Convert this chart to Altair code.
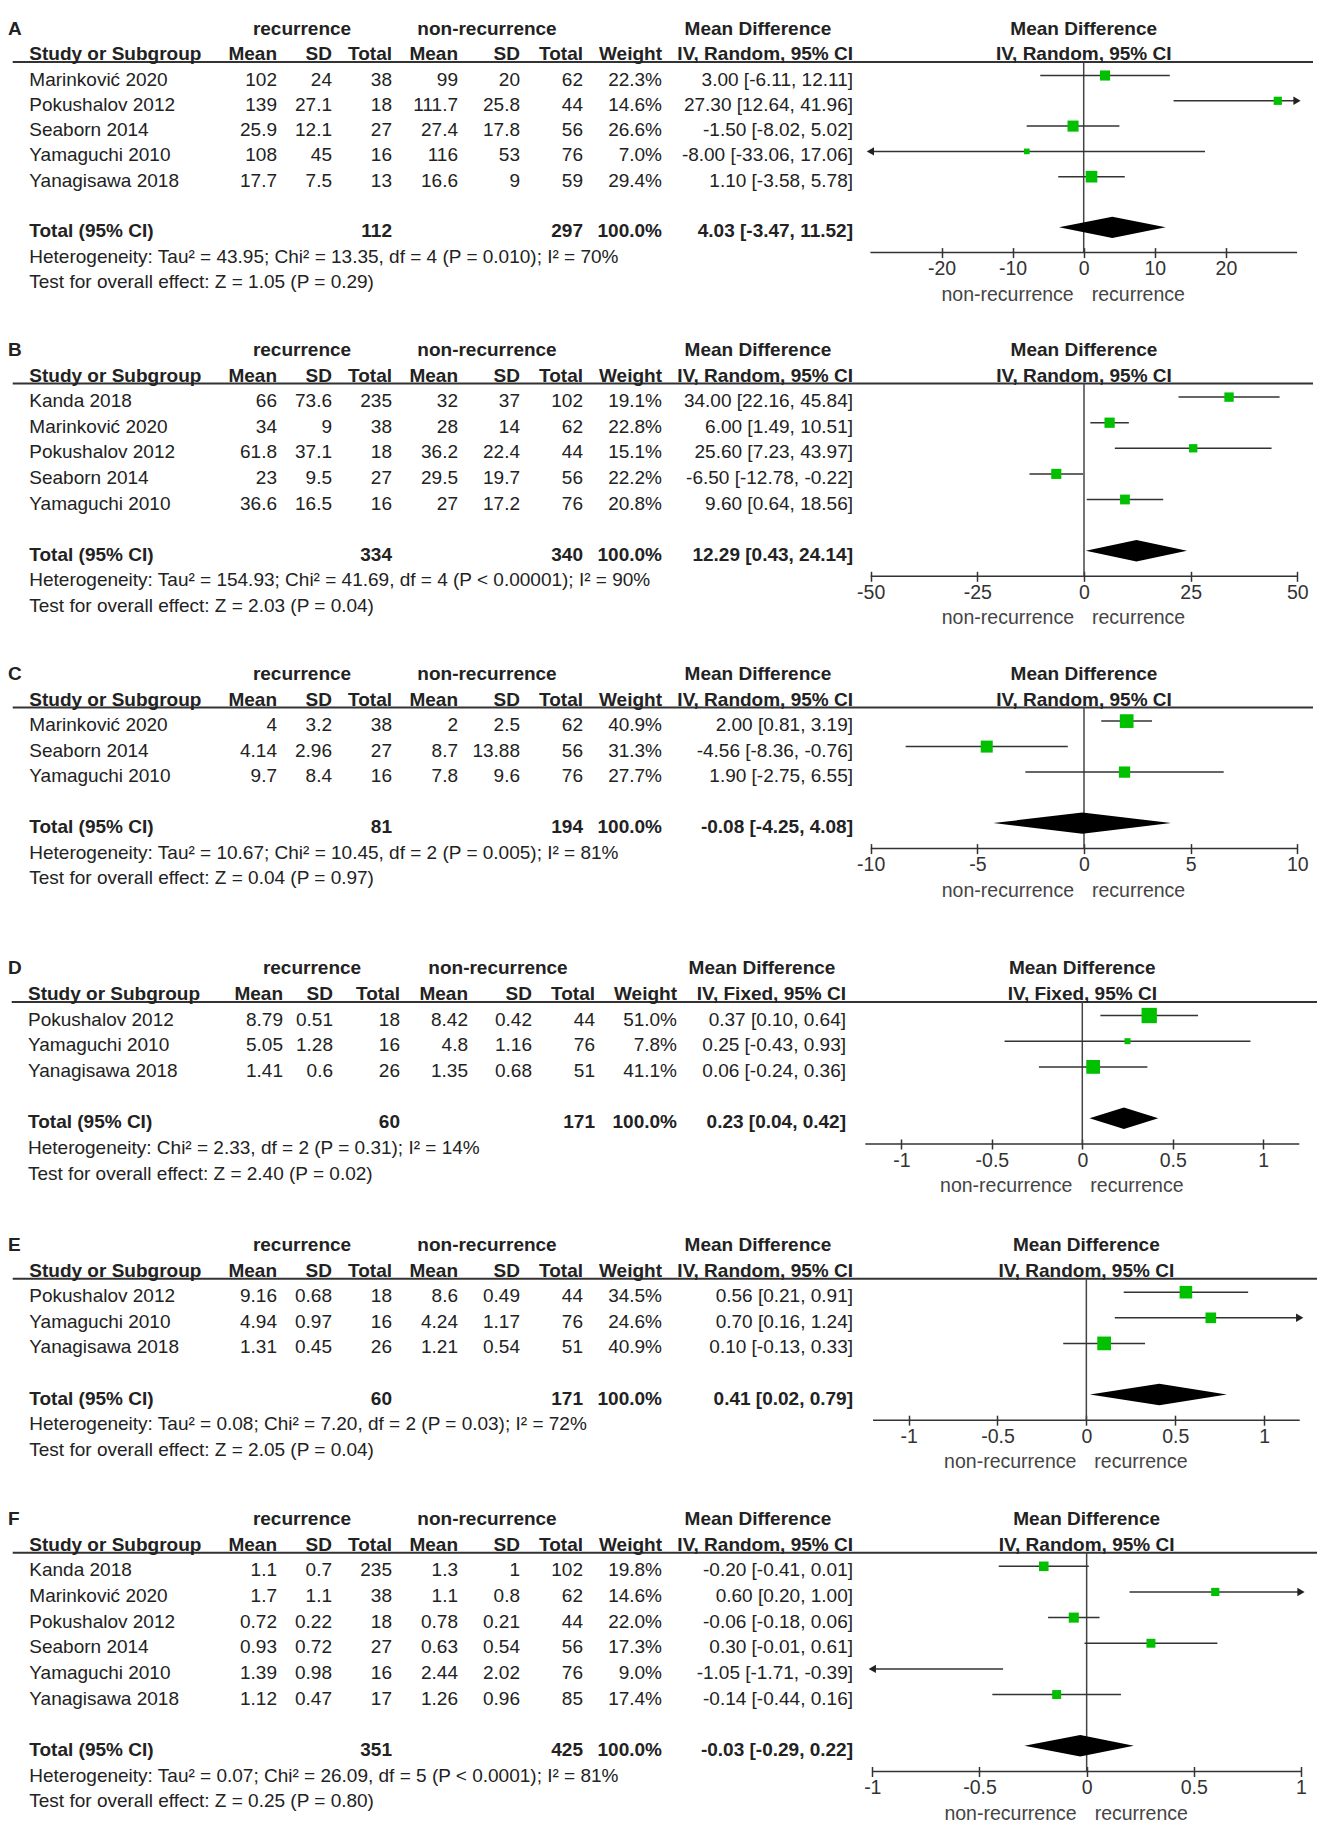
import altair as alt
import pandas as pd

# ---------------- data ----------------
A_study = ["Marinković 2020", "Pokushalov 2012", "Seaborn 2014", "Yamaguchi 2010", "Yanagisawa 2018"]
A_rec_mean = [102, 139, 25.9, 108, 17.7]
A_rec_sd = [24, 27.1, 12.1, 45, 7.5]
A_rec_n = [38, 18, 27, 16, 13]
A_non_mean = [99, 111.7, 27.4, 116, 16.6]
A_non_sd = [20, 25.8, 17.8, 53, 9]
A_non_n = [62, 44, 56, 76, 59]
A_weight = [22.3, 14.6, 26.6, 7.0, 29.4]
A_md = [3.00, 27.30, -1.50, -8.00, 1.10]
A_lo = [-6.11, 12.64, -8.02, -33.06, -3.58]
A_hi = [12.11, 41.96, 5.02, 17.06, 5.78]
A_total_n = [112, 297]
A_total_ci = [4.03, -3.47, 11.52]
A_het = "Heterogeneity: Tau² = 43.95; Chi² = 13.35, df = 4 (P = 0.010); I² = 70%"
A_test = "Test for overall effect: Z = 1.05 (P = 0.29)"
A_method = "IV, Random, 95% CI"
A_domain = [-30, 30]
A_ticks = [-20, -10, 0, 10, 20]

B_study = ["Kanda 2018", "Marinković 2020", "Pokushalov 2012", "Seaborn 2014", "Yamaguchi 2010"]
B_rec_mean = [66, 34, 61.8, 23, 36.6]
B_rec_sd = [73.6, 9, 37.1, 9.5, 16.5]
B_rec_n = [235, 38, 18, 27, 16]
B_non_mean = [32, 28, 36.2, 29.5, 27]
B_non_sd = [37, 14, 22.4, 19.7, 17.2]
B_non_n = [102, 62, 44, 56, 76]
B_weight = [19.1, 22.8, 15.1, 22.2, 20.8]
B_md = [34.00, 6.00, 25.60, -6.50, 9.60]
B_lo = [22.16, 1.49, 7.23, -12.78, 0.64]
B_hi = [45.84, 10.51, 43.97, -0.22, 18.56]
B_total_n = [334, 340]
B_total_ci = [12.29, 0.43, 24.14]
B_het = "Heterogeneity: Tau² = 154.93; Chi² = 41.69, df = 4 (P < 0.00001); I² = 90%"
B_test = "Test for overall effect: Z = 2.03 (P = 0.04)"
B_method = "IV, Random, 95% CI"
B_domain = [-50, 50]
B_ticks = [-50, -25, 0, 25, 50]

C_study = ["Marinković 2020", "Seaborn 2014", "Yamaguchi 2010"]
C_rec_mean = [4, 4.14, 9.7]
C_rec_sd = [3.2, 2.96, 8.4]
C_rec_n = [38, 27, 16]
C_non_mean = [2, 8.7, 7.8]
C_non_sd = [2.5, 13.88, 9.6]
C_non_n = [62, 56, 76]
C_weight = [40.9, 31.3, 27.7]
C_md = [2.00, -4.56, 1.90]
C_lo = [0.81, -8.36, -2.75]
C_hi = [3.19, -0.76, 6.55]
C_total_n = [81, 194]
C_total_ci = [-0.08, -4.25, 4.08]
C_het = "Heterogeneity: Tau² = 10.67; Chi² = 10.45, df = 2 (P = 0.005); I² = 81%"
C_test = "Test for overall effect: Z = 0.04 (P = 0.97)"
C_method = "IV, Random, 95% CI"
C_domain = [-10, 10]
C_ticks = [-10, -5, 0, 5, 10]

D_study = ["Pokushalov 2012", "Yamaguchi 2010", "Yanagisawa 2018"]
D_rec_mean = [8.79, 5.05, 1.41]
D_rec_sd = [0.51, 1.28, 0.6]
D_rec_n = [18, 16, 26]
D_non_mean = [8.42, 4.8, 1.35]
D_non_sd = [0.42, 1.16, 0.68]
D_non_n = [44, 76, 51]
D_weight = [51.0, 7.8, 41.1]
D_md = [0.37, 0.25, 0.06]
D_lo = [0.10, -0.43, -0.24]
D_hi = [0.64, 0.93, 0.36]
D_total_n = [60, 171]
D_total_ci = [0.23, 0.04, 0.42]
D_het = "Heterogeneity: Chi² = 2.33, df = 2 (P = 0.31); I² = 14%"
D_test = "Test for overall effect: Z = 2.40 (P = 0.02)"
D_method = "IV, Fixed, 95% CI"
D_domain = [-1.2, 1.2]
D_ticks = [-1, -0.5, 0, 0.5, 1]

E_study = ["Pokushalov 2012", "Yamaguchi 2010", "Yanagisawa 2018"]
E_rec_mean = [9.16, 4.94, 1.31]
E_rec_sd = [0.68, 0.97, 0.45]
E_rec_n = [18, 16, 26]
E_non_mean = [8.6, 4.24, 1.21]
E_non_sd = [0.49, 1.17, 0.54]
E_non_n = [44, 76, 51]
E_weight = [34.5, 24.6, 40.9]
E_md = [0.56, 0.70, 0.10]
E_lo = [0.21, 0.16, -0.13]
E_hi = [0.91, 1.24, 0.33]
E_total_n = [60, 171]
E_total_ci = [0.41, 0.02, 0.79]
E_het = "Heterogeneity: Tau² = 0.08; Chi² = 7.20, df = 2 (P = 0.03); I² = 72%"
E_test = "Test for overall effect: Z = 2.05 (P = 0.04)"
E_method = "IV, Random, 95% CI"
E_domain = [-1.2, 1.2]
E_ticks = [-1, -0.5, 0, 0.5, 1]

F_study = ["Kanda 2018", "Marinković 2020", "Pokushalov 2012", "Seaborn 2014", "Yamaguchi 2010", "Yanagisawa 2018"]
F_rec_mean = [1.1, 1.7, 0.72, 0.93, 1.39, 1.12]
F_rec_sd = [0.7, 1.1, 0.22, 0.72, 0.98, 0.47]
F_rec_n = [235, 38, 18, 27, 16, 17]
F_non_mean = [1.3, 1.1, 0.78, 0.63, 2.44, 1.26]
F_non_sd = [1, 0.8, 0.21, 0.54, 2.02, 0.96]
F_non_n = [102, 62, 44, 56, 76, 85]
F_weight = [19.8, 14.6, 22.0, 17.3, 9.0, 17.4]
F_md = [-0.20, 0.60, -0.06, 0.30, -1.05, -0.14]
F_lo = [-0.41, 0.20, -0.18, -0.01, -1.71, -0.44]
F_hi = [0.01, 1.00, 0.06, 0.61, -0.39, 0.16]
F_total_n = [351, 425]
F_total_ci = [-0.03, -0.29, 0.22]
F_het = "Heterogeneity: Tau² = 0.07; Chi² = 26.09, df = 5 (P < 0.0001); I² = 81%"
F_test = "Test for overall effect: Z = 0.25 (P = 0.80)"
F_method = "IV, Random, 95% CI"
F_domain = [-1, 1]
F_ticks = [-1, -0.5, 0, 0.5, 1]

# ---------------- layout / style ----------------
FONT = "Liberation Sans"
TXT = "#222222"
LINE = "#333333"
GREEN = "#00c000"
FS = 19
W = 1310

COLS_STD = dict(study=21.3, m1=269, s1=324, n1=384, m2=450, s2=512, n2=575,
                w=654, ci=845, rec=294, non=479, md=750)
COLS_D = dict(study=20, m1=275, s1=325, n1=392, m2=460, s2=524, n2=587,
              w=669, ci=838, rec=304, non=490, md=754)

LAYOUTS = {
    "A": dict(row0=75.5, rowpx=25.3, xr=[862.4, 1289.0], cols=COLS_STD, hl=[4.7, 1305]),
    "B": dict(row0=396.7, rowpx=25.6, xr=[862.7, 1289.3], cols=COLS_STD, hl=[4.7, 1305]),
    "C": dict(row0=720.0, rowpx=25.5, xr=[862.7, 1289.3], cols=COLS_STD, hl=[4.7, 1305]),
    "D": dict(row0=1014.0, rowpx=25.7, xr=[857.3, 1291.3], cols=COLS_D, hl=[3.7, 1309]),
    "E": dict(row0=1290.7, rowpx=25.6, xr=[865.0, 1291.7], cols=COLS_STD, hl=[4.7, 1309]),
    "F": dict(row0=1564.0, rowpx=25.65, xr=[864.3, 1293.0], cols=COLS_STD, hl=[4.7, 1309]),
}

G = globals()
PANELS = []
for key in "ABCDEF":
    PANELS.append(dict(
        key=key,
        study=G[key + "_study"], rec_mean=G[key + "_rec_mean"], rec_sd=G[key + "_rec_sd"],
        rec_n=G[key + "_rec_n"], non_mean=G[key + "_non_mean"], non_sd=G[key + "_non_sd"],
        non_n=G[key + "_non_n"], weight=G[key + "_weight"], md=G[key + "_md"],
        lo=G[key + "_lo"], hi=G[key + "_hi"], total_n=G[key + "_total_n"],
        total_ci=G[key + "_total_ci"], het=G[key + "_het"], test=G[key + "_test"],
        method=G[key + "_method"], domain=G[key + "_domain"], ticks=G[key + "_ticks"],
    ))

TEXT_DY = 4
HEADER_LINE_ROW = -0.53
DIAMOND_HALF = 0.42
TICK_LABEL_EXPR = ("datum.value < 0 ? '-' + format(-datum.value, '~f') "
                   ": format(datum.value, '~f')")


def ci_str(m, l, h):
    return f"{m:.2f} [{l:.2f}, {h:.2f}]"


def build_panel(p, prev_axis):
    L = LAYOUTS[p["key"]]
    n = len(p["study"])
    rowpx = L["rowpx"]
    bottom = n + 2
    top = -(L["row0"] - prev_axis) / rowpx
    height = (bottom - top) * rowpx
    dmin, dmax = p["domain"]
    cols = L["cols"]

    yscale = alt.Scale(domain=[top, bottom], reverse=True, nice=False, zero=False)
    xscale = alt.Scale(domain=[dmin, dmax], range=L["xr"], nice=False, zero=False)
    xaxis = alt.Axis(values=p["ticks"], labelExpr=TICK_LABEL_EXPR, tickSize=10, offset=-5,
                     domain=False, grid=False, labelFont=FONT, labelFontSize=19.5,
                     labelColor="#333333", tickColor=LINE, tickWidth=1.5, labelPadding=2,
                     title=None, labelFlush=False, labelOverlap=False, orient="bottom")

    def Y(field="row"):
        return alt.Y(field, type="quantitative", scale=yscale, axis=None)

    def X(field):
        return alt.X(field, type="quantitative", scale=xscale, axis=xaxis)

    df = pd.DataFrame({
        "row": list(range(n)),
        "study": p["study"],
        "m1": [str(v) for v in p["rec_mean"]],
        "s1": [str(v) for v in p["rec_sd"]],
        "n1": [str(v) for v in p["rec_n"]],
        "m2": [str(v) for v in p["non_mean"]],
        "s2": [str(v) for v in p["non_sd"]],
        "n2": [str(v) for v in p["non_n"]],
        "w": [f"{v:.1f}%" for v in p["weight"]],
        "ci": [ci_str(m, l, h) for m, l, h in zip(p["md"], p["lo"], p["hi"])],
        "weight": p["weight"],
        "md": p["md"],
        "lo": p["lo"],
        "hi": p["hi"],
    })
    df["lo_c"] = df["lo"].clip(lower=dmin)
    df["hi_c"] = df["hi"].clip(upper=dmax)

    layers = []

    def text_layer(data, field, x, align="left", bold=False, size=FS, color=TXT, dy=TEXT_DY):
        return alt.Chart(data).mark_text(
            align=align, baseline="middle", font=FONT, fontSize=size,
            fontWeight="bold" if bold else "normal", color=color, dy=dy
        ).encode(x=alt.value(x), y=Y(), text=alt.Text(field, type="nominal"))

    def label(rowv, txt, x, align="left", bold=False, size=FS):
        d = pd.DataFrame({"row": [rowv], "t": [txt]})
        return text_layer(d, "t", x, align, bold, size)

    # header line and zero line
    hl = pd.DataFrame({"row": [HEADER_LINE_ROW]})
    layers.append(alt.Chart(hl).mark_rule(color=LINE, strokeWidth=2).encode(
        x=alt.value(L["hl"][0]), x2=alt.value(L["hl"][1]), y=Y()))
    zl = pd.DataFrame({"x": [0], "r1": [HEADER_LINE_ROW], "r2": [bottom]})
    layers.append(alt.Chart(zl).mark_rule(color="#444444", strokeWidth=1.5).encode(
        x=X("x"), y=Y("r1"), y2=alt.Y2("r2")))
    # axis domain line
    dl = pd.DataFrame({"row": [bottom], "a": [dmin], "b": [dmax]})
    layers.append(alt.Chart(dl).mark_rule(color=LINE, strokeWidth=1.5).encode(
        x=X("a"), x2=alt.X2("b"), y=Y()))

    # CI lines
    layers.append(alt.Chart(df).mark_rule(color=LINE, strokeWidth=1.5).encode(
        x=X("lo_c"), x2=alt.X2("hi_c"), y=Y()))
    left = df[df["lo"] < dmin]
    if len(left):
        layers.append(alt.Chart(left).mark_point(shape="triangle-left", filled=True, size=70,
                                                 color="#222222", opacity=1).encode(
            x=X("lo_c"), y=Y()))
    right = df[df["hi"] >= dmax]
    if len(right):
        layers.append(alt.Chart(right).mark_point(shape="triangle-right", filled=True, size=70,
                                                  color="#222222", opacity=1).encode(
            x=X("hi_c"), y=Y()))
    inside = df[(df["md"] >= dmin) & (df["md"] <= dmax)]
    layers.append(alt.Chart(inside).mark_square(filled=True, color=GREEN, opacity=1).encode(
        x=X("md"), y=Y(),
        size=alt.Size("weight", type="quantitative",
                      scale=alt.Scale(domain=[0, 100], range=[0, 460]), legend=None)))

    # diamond for the total
    est, tlo, thi = p["total_ci"]
    trow = n + 1
    dd = pd.DataFrame({"x": [tlo, est, thi],
                       "yt": [trow, trow - DIAMOND_HALF, trow],
                       "yb": [trow, trow + DIAMOND_HALF, trow]})
    layers.append(alt.Chart(dd).mark_area(color="#000000", orient="vertical", opacity=1).encode(
        x=X("x"), y=Y("yt"), y2=alt.Y2("yb")))

    # forest header and axis captions
    fh = pd.DataFrame({"x": [0, 0], "row": [-2, -1], "t": ["Mean Difference", p["method"]]})
    layers.append(alt.Chart(fh).mark_text(align="center", baseline="middle", font=FONT,
                                          fontSize=FS, fontWeight="bold", color=TXT,
                                          dy=TEXT_DY).encode(
        x=X("x"), y=Y(), text="t:N"))
    cap = pd.DataFrame({"x": [0], "row": [bottom]})
    layers.append(alt.Chart(cap).mark_text(align="right", baseline="middle", font=FONT,
                                           fontSize=19.5, color="#444444", dx=-10, dy=42,
                                           text="non-recurrence").encode(x=X("x"), y=Y()))
    layers.append(alt.Chart(cap).mark_text(align="left", baseline="middle", font=FONT,
                                           fontSize=19.5, color="#444444", dx=8, dy=42,
                                           text="recurrence").encode(x=X("x"), y=Y()))

    # table headers
    layers.append(label(-2, p["key"], 0, "left", True))
    layers.append(label(-2, "recurrence", cols["rec"], "center", True))
    layers.append(label(-2, "non-recurrence", cols["non"], "center", True))
    layers.append(label(-2, "Mean Difference", cols["md"], "center", True))
    layers.append(label(-1, "Study or Subgroup", cols["study"], "left", True))
    for c, t in [("m1", "Mean"), ("s1", "SD"), ("n1", "Total"), ("m2", "Mean"),
                 ("s2", "SD"), ("n2", "Total"), ("w", "Weight"), ("ci", p["method"])]:
        layers.append(label(-1, t, cols[c], "right", True))

    # table body
    layers.append(text_layer(df, "study", cols["study"], "left"))
    for c in ["m1", "s1", "n1", "m2", "s2", "n2", "w", "ci"]:
        layers.append(text_layer(df, c, cols[c], "right"))

    # totals and footnotes
    layers.append(label(trow, "Total (95% CI)", cols["study"], "left", True))
    layers.append(label(trow, str(p["total_n"][0]), cols["n1"], "right", True))
    layers.append(label(trow, str(p["total_n"][1]), cols["n2"], "right", True))
    layers.append(label(trow, "100.0%", cols["w"], "right", True))
    layers.append(label(trow, ci_str(est, tlo, thi), cols["ci"], "right", True))
    layers.append(label(n + 2, p["het"], cols["study"], "left"))
    layers.append(label(n + 3, p["test"], cols["study"], "left"))

    chart = alt.layer(*layers).properties(width=W, height=height)
    new_axis = prev_axis + height
    return chart, new_axis


charts = []
prev = 8.0
for p in PANELS:
    c, prev = build_panel(p, prev)
    charts.append(c)

chart = alt.vconcat(*charts, spacing=0, bounds="flush").resolve_scale(
    x="independent", y="independent", size="independent"
).configure_view(stroke=None).properties(padding=0, background="white")

chart.save("out.html", embed_options={"renderer": "svg", "actions": False})
